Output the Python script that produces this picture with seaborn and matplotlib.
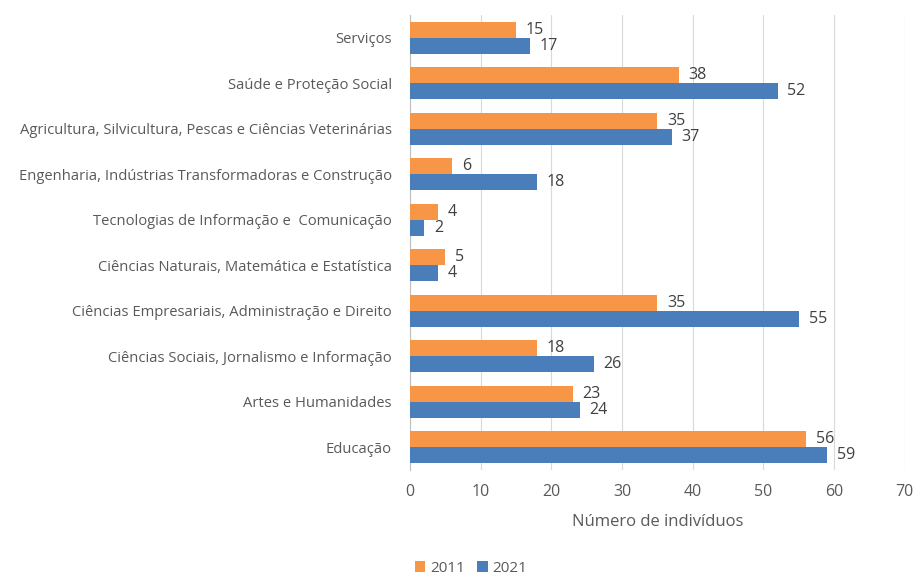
import matplotlib
matplotlib.use("Agg")
import matplotlib.pyplot as plt
import seaborn as sns
import pandas as pd

# ─────────────────────────────────────────
# DATA
# ─────────────────────────────────────────
areas = [
    "Serviços",
    "Saúde e Proteção Social",
    "Agricultura, Silvicultura, Pescas e Ciências Veterinárias",
    "Engenharia, Indústrias Transformadoras e Construção",
    "Tecnologias de Informação e  Comunicação",
    "Ciências Naturais, Matemática e Estatística",
    "Ciências Empresariais, Administração e Direito",
    "Ciências Sociais, Jornalismo e Informação",
    "Artes e Humanidades",
    "Educação",
]
valores_2011 = [15, 38, 35, 6, 4, 5, 35, 18, 23, 56]
valores_2021 = [17, 52, 37, 18, 2, 4, 55, 26, 24, 59]
anos = ["2011", "2021"]
ticks_x = [0, 10, 20, 30, 40, 50, 60, 70]

df = pd.DataFrame({
    "area": areas * 2,
    "ano": [anos[0]] * len(areas) + [anos[1]] * len(areas),
    "n": valores_2011 + valores_2021,
})

cores = {"2011": "#F79646", "2021": "#4A7EBB"}
txt = "#595959"

sns.set_style("white")
plt.rcParams["font.family"] = ["Open Sans", "DejaVu Sans"]

fig = plt.figure(figsize=(9.14, 5.76), dpi=100)
ax = fig.add_axes([0.4486, 0.184, 0.5414, 0.79])

sns.barplot(data=df, y="area", x="n", hue="ano", order=areas, hue_order=anos,
            palette=cores, orient="h", width=0.7, ax=ax, saturation=1,
            edgecolor="none", zorder=3)

for cont in ax.containers:
    ax.bar_label(cont, labels=[f"{v:g}" for v in cont.datavalues], padding=7,
                 fontsize=11.5, color="#404040")

ax.set_xlim(0, 70)
ax.set_xticks(ticks_x)
ax.tick_params(axis="x", labelsize=11.5, colors=txt, length=0, pad=10)
ax.tick_params(axis="y", labelsize=10.6, colors=txt, length=0, pad=13)
ax.set_xlabel("Número de indivíduos", fontsize=12, color=txt, labelpad=10)
ax.set_ylabel("")
ax.grid(axis="x", color="#D9D9D9", linewidth=0.8, zorder=0)
for s in ["top", "right", "bottom"]:
    ax.spines[s].set_visible(False)
ax.spines["left"].set_color("#BFBFBF")
ax.spines["left"].set_linewidth(0.8)

leg = ax.legend(loc="lower left", bbox_to_anchor=(0.447, -0.01), bbox_transform=fig.transFigure,
                ncol=2, frameon=False, fontsize=11, handlelength=0.7, handleheight=0.7,
                handletextpad=0.3, columnspacing=0.8, borderaxespad=0.0)
for t in leg.get_texts():
    t.set_color(txt)

fig.savefig("out.png", dpi=100)
